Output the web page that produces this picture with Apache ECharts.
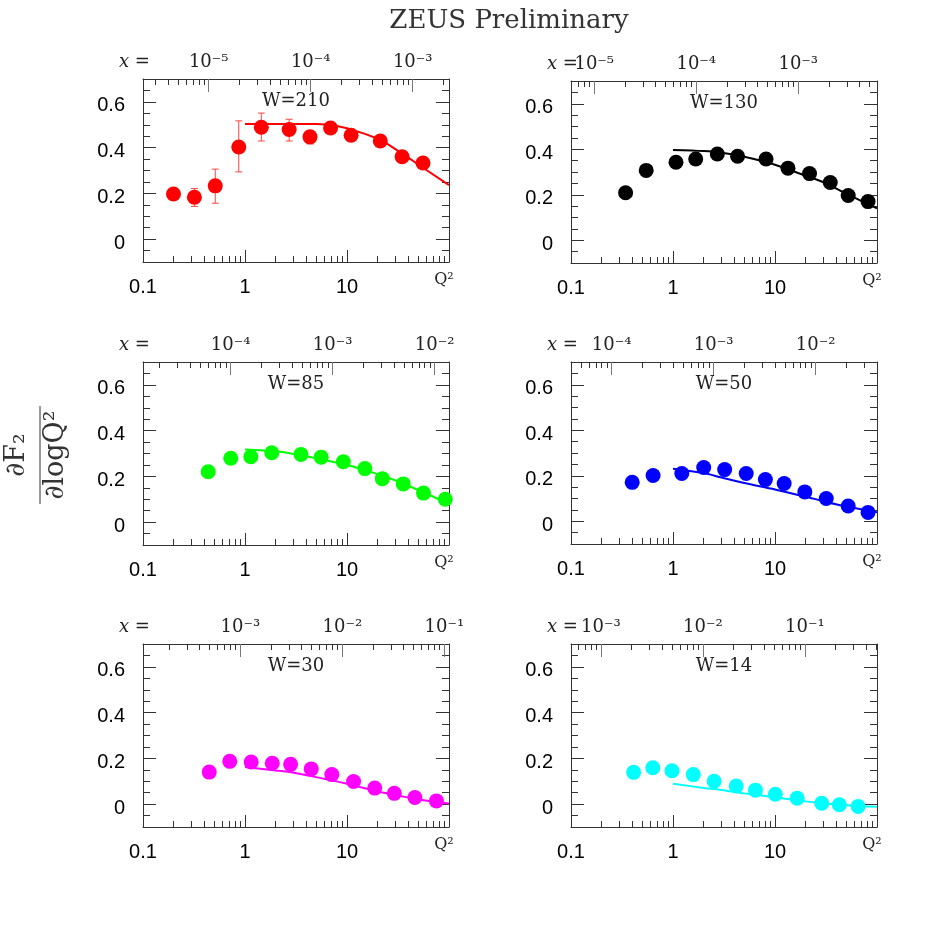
<!DOCTYPE html>
<html><head><meta charset="utf-8">
<script src="https://cdn.jsdelivr.net/npm/echarts@6/dist/echarts.min.js"></script>
<style>html,body{margin:0;padding:0;background:#fff}#c{width:926px;height:926px}</style>
</head><body><div id="c"></div>
<script>
// ---------------- data ----------------
const wValues = [210, 130, 85, 50, 30, 14];
const panelColors = ['#ff0000', '#000000', '#00ff00', '#0000ff', '#ff00ff', '#00ffff'];

// W = 210
const q2W210 = [0.199, 0.319, 0.511, 0.869, 1.445, 2.71, 4.34, 6.9, 10.97, 21.2, 34.7, 55.6];
const dW210  = [0.197, 0.183, 0.233, 0.403, 0.489, 0.479, 0.447, 0.486, 0.454, 0.429, 0.360, 0.333];
const errLoW210 = [0.186, 0.143, 0.157, 0.294, 0.429, 0.429, 0.416, 0.475, 0.443, 0.418, 0.349, 0.322];
const errHiW210 = [0.208, 0.221, 0.306, 0.517, 0.551, 0.524, 0.474, 0.497, 0.465, 0.440, 0.371, 0.344];
const fitQ2W210 = [1, 5, 7, 10, 15, 22, 37, 60, 100];
const fitW210   = [0.503, 0.503, 0.500, 0.485, 0.460, 0.432, 0.366, 0.302, 0.236];

// W = 130
const q2W130 = [0.343, 0.546, 1.07, 1.67, 2.72, 4.3, 8.17, 13.4, 21.8, 34.8, 52.2, 81.7];
const dW130  = [0.209, 0.307, 0.343, 0.357, 0.379, 0.369, 0.357, 0.317, 0.293, 0.254, 0.197, 0.170];
// W = 85
const q2W85 = [0.436, 0.725, 1.14, 1.83, 3.54, 5.58, 9.2, 14.96, 22.2, 35.6, 56.2, 92];
const dW85  = [0.220, 0.279, 0.286, 0.303, 0.296, 0.284, 0.264, 0.234, 0.190, 0.167, 0.127, 0.100];
// W = 50
const q2W50 = [0.398, 0.638, 1.22, 2.0, 3.21, 5.22, 8.05, 12.3, 19.6, 31.8, 52.2, 81.7];
const dW50  = [0.171, 0.201, 0.210, 0.236, 0.227, 0.210, 0.183, 0.166, 0.129, 0.100, 0.067, 0.039];
// W = 30
const q2W30 = [0.446, 0.709, 1.15, 1.85, 2.8, 4.46, 7.1, 11.6, 18.7, 29.1, 46.3, 75.3];
const dW30  = [0.140, 0.187, 0.184, 0.179, 0.174, 0.154, 0.129, 0.099, 0.070, 0.047, 0.029, 0.014];
// W = 14
const q2W14 = [0.411, 0.634, 0.977, 1.58, 2.53, 4.17, 6.43, 10.07, 16.5, 28.7, 42.7, 65.3];
const dW14  = [0.139, 0.159, 0.146, 0.129, 0.100, 0.079, 0.061, 0.043, 0.026, 0.004, -0.003, -0.010];

// theory curves (W = 130 ... 14) on a common Q2 grid
const fitQ2 = [1, 2, 3, 5, 10, 20, 30, 50, 100];
const fitW130 = [0.397, 0.392, 0.385, 0.367, 0.332, 0.283, 0.255, 0.205, 0.140];
const fitW85  = [0.318, 0.310, 0.298, 0.279, 0.250, 0.210, 0.182, 0.140, 0.080];
const fitW50  = [0.231, 0.212, 0.192, 0.168, 0.140, 0.108, 0.088, 0.065, 0.040];
const fitW30  = [0.162, 0.147, 0.137, 0.118, 0.089, 0.055, 0.040, 0.020, 0.003];
const fitW14  = [0.089, 0.071, 0.062, 0.047, 0.030, 0.012, 0.004, -0.005, -0.012];

// axis ticks
const q2Range = [0.1, 100];
const q2LabelTicks = [0.1, 1, 10];
const q2MajorTicks = [0.1, 1, 10, 100];
const decadeStarts = [1e-7, 1e-6, 1e-5, 1e-4, 1e-3, 1e-2, 1e-1, 1, 10];
const minorMultipliers = [2, 3, 4, 5, 6, 7, 8, 9];
const yRange = [-0.1, 0.7];
const yLabelTicks = [0, 0.2, 0.4, 0.6];
const yMinorTicks = [-0.05, 0, 0.05, 0.1, 0.15, 0.2, 0.25, 0.3, 0.35, 0.4, 0.45, 0.5, 0.55, 0.6, 0.65];

const panels = [
  { W: wValues[0], q2: q2W210, d: dW210, fq: fitQ2W210, f: fitW210, smooth: false, errLo: errLoW210, errHi: errHiW210 },
  { W: wValues[1], q2: q2W130, d: dW130, fq: fitQ2, f: fitW130, smooth: true },
  { W: wValues[2], q2: q2W85,  d: dW85,  fq: fitQ2, f: fitW85,  smooth: true },
  { W: wValues[3], q2: q2W50,  d: dW50,  fq: fitQ2, f: fitW50,  smooth: true },
  { W: wValues[4], q2: q2W30,  d: dW30,  fq: fitQ2, f: fitW30,  smooth: true },
  { W: wValues[5], q2: q2W14,  d: dW14,  fq: fitQ2, f: fitW14,  smooth: true }
];

// ---------------- layout ----------------
const gridRects = [
  { left: 143, top: 79,  width: 306, height: 183 },
  { left: 571, top: 81,  width: 306, height: 182 },
  { left: 143, top: 362, width: 306, height: 183 },
  { left: 571, top: 362, width: 306, height: 182 },
  { left: 143, top: 644, width: 306, height: 183 },
  { left: 571, top: 644, width: 306, height: 183 }
];

const AX = '#333';
const SANS = 'Liberation Sans';
const SERIF = 'DejaVu Serif';
const minorLogTicks = [];
decadeStarts.forEach(d => minorMultipliers.forEach(m => minorLogTicks.push(+(d * m).toPrecision(6))));
const sup = { '-': '\u207B', '0': '\u2070', '1': '\u00B9', '2': '\u00B2', '3': '\u00B3', '4': '\u2074', '5': '\u2075', '6': '\u2076', '7': '\u2077', '8': '\u2078', '9': '\u2079' };
function powLabel(v) {
  const e = String(Math.round(Math.log10(v)));
  return '10' + e.split('').map(c => sup[c]).join('');
}

const grid = [], xAxis = [], yAxis = [], series = [], graphic = [];

panels.forEach((p, i) => {
  const g = gridRects[i];
  grid.push({ left: g.left, top: g.top, width: g.width, height: g.height, containLabel: false });
  const W2 = p.W * p.W;
  const topMin = q2Range[0] / W2, topMax = q2Range[1] / W2;
  const base = { type: 'log', logBase: 10, gridIndex: i, splitLine: { show: false } };
  const lineOn = { show: true, onZero: false, lineStyle: { color: AX, width: 1 } };
  const lineOff = { show: false, onZero: false };
  // bottom major
  xAxis.push(Object.assign({}, base, {
    position: 'bottom', min: q2Range[0], max: q2Range[1],
    axisLine: lineOn,
    axisTick: { show: true, inside: true, length: 12, customValues: q2MajorTicks, lineStyle: { color: AX } },
    axisLabel: { show: true, customValues: q2LabelTicks, margin: 15, fontSize: 20, fontFamily: SANS, color: '#000',
      formatter: v => (v < 1 ? v.toFixed(1) : String(Math.round(v))) }
  }));
  // bottom minor
  xAxis.push(Object.assign({}, base, {
    position: 'bottom', min: q2Range[0], max: q2Range[1],
    axisLine: lineOff,
    axisTick: { show: true, inside: true, length: 6, customValues: minorLogTicks, lineStyle: { color: AX } },
    axisLabel: { show: false }
  }));
  // Q^2 label
  xAxis.push(Object.assign({}, base, {
    position: 'bottom', min: q2Range[0], max: q2Range[1],
    axisLine: lineOff, axisTick: { show: false },
    axisLabel: { show: true, customValues: [q2Range[1]], margin: 10, fontSize: 16, fontFamily: SERIF, color: '#222',
      padding: [0, 10, 0, 0], formatter: () => 'Q\u00B2' }
  }));
  // top major (x)
  xAxis.push(Object.assign({}, base, {
    position: 'top', min: topMin, max: topMax,
    axisLine: lineOn,
    axisTick: { show: true, inside: true, length: 13, customValues: decadeStarts, lineStyle: { color: '#777' } },
    axisLabel: { show: true, customValues: decadeStarts, margin: 8, fontSize: 18, fontFamily: SERIF, color: '#222',
      formatter: v => powLabel(v) }
  }));
  // top minor
  xAxis.push(Object.assign({}, base, {
    position: 'top', min: topMin, max: topMax,
    axisLine: lineOff,
    axisTick: { show: true, inside: true, length: 6, customValues: minorLogTicks, lineStyle: { color: AX } },
    axisLabel: { show: false }
  }));

  const ybase = { type: 'value', gridIndex: i, min: yRange[0], max: yRange[1], splitLine: { show: false } };
  yAxis.push(Object.assign({}, ybase, {
    position: 'left',
    axisLine: lineOn,
    axisTick: { show: true, inside: true, length: 13, customValues: yLabelTicks, lineStyle: { color: AX } },
    axisLabel: { show: true, customValues: yLabelTicks, margin: 18, color: '#000',
      formatter: v => '{n|' + (v === 0 ? '0' : v.toFixed(1)) + '}',
      rich: { n: { fontSize: 20, fontFamily: SANS, color: '#000', padding: [8, 0, 0, 0] } } }
  }));
  yAxis.push(Object.assign({}, ybase, {
    position: 'left', axisLine: lineOff,
    axisTick: { show: true, inside: true, length: 7, customValues: yMinorTicks, lineStyle: { color: AX } },
    axisLabel: { show: false }
  }));
  yAxis.push(Object.assign({}, ybase, {
    position: 'right',
    axisLine: lineOn,
    axisTick: { show: true, inside: true, length: 13, customValues: yLabelTicks, lineStyle: { color: AX } },
    axisLabel: { show: false }
  }));
  yAxis.push(Object.assign({}, ybase, {
    position: 'right', axisLine: lineOff,
    axisTick: { show: true, inside: true, length: 7, customValues: yMinorTicks, lineStyle: { color: AX } },
    axisLabel: { show: false }
  }));

  const xi = i * 5, yi = i * 4;
  const col = panelColors[i];
  series.push({
    type: 'line', xAxisIndex: xi, yAxisIndex: yi, z: 2,
    data: p.fq.map((q, k) => [q, p.f[k]]),
    showSymbol: false, smooth: p.smooth ? 0.3 : false,
    lineStyle: { color: col, width: 2 }, itemStyle: { color: col }, silent: true
  });
  if (p.errLo) {
    series.push({
      type: 'custom', xAxisIndex: xi, yAxisIndex: yi, z: 3,
      data: p.q2.map((q, k) => [q, p.errLo[k], p.errHi[k]]),
      encode: { x: 0, y: [1, 2] },
      renderItem: (params, api) => {
        const a = api.coord([api.value(0), api.value(1)]);
        const b = api.coord([api.value(0), api.value(2)]);
        const c = 3.5;
        const st = { stroke: '#ff4444', lineWidth: 1 };
        return { type: 'group', children: [
          { type: 'line', shape: { x1: a[0], y1: a[1], x2: b[0], y2: b[1] }, style: st },
          { type: 'line', shape: { x1: a[0] - c, y1: a[1], x2: a[0] + c, y2: a[1] }, style: st },
          { type: 'line', shape: { x1: b[0] - c, y1: b[1], x2: b[0] + c, y2: b[1] }, style: st }
        ] };
      }
    });
  }
  series.push({
    type: 'scatter', xAxisIndex: xi, yAxisIndex: yi, z: 4,
    data: p.q2.map((q, k) => [q, p.d[k]]),
    symbol: 'circle', symbolSize: 15, itemStyle: { color: col, opacity: 1 }
  });

  // panel texts
  graphic.push({ type: 'text', x: g.left + g.width / 2, y: g.top + 22,
    style: { text: 'W=' + p.W, align: 'center', verticalAlign: 'middle', textAlign: 'center', textVerticalAlign: 'middle',
      fontSize: 18, fontFamily: SERIF, fill: '#222' } });
  graphic.push({ type: 'text', x: g.left - 24, y: g.top - 17,
    style: { text: 'x =', align: 'left', verticalAlign: 'middle', textAlign: 'left', textVerticalAlign: 'middle',
      fontSize: 18, fontFamily: SERIF, fontStyle: 'italic', fill: '#222' } });
});

graphic.push({ type: 'text', x: 509, y: 21,
  style: { text: 'ZEUS Preliminary', align: 'center', verticalAlign: 'middle', textAlign: 'center', textVerticalAlign: 'middle',
    fontSize: 26, fontFamily: SERIF, fill: '#333' } });

graphic.push({ type: 'group', x: 40, y: 455, rotation: Math.PI / 2, children: [
  { type: 'line', shape: { x1: -49, y1: 0, x2: 49, y2: 0 }, style: { stroke: '#333', lineWidth: 1 } },
  { type: 'text', x: 0, y: -23, style: { text: '\u2202F\u2082', align: 'center', verticalAlign: 'middle', textAlign: 'center', textVerticalAlign: 'middle', fontSize: 27, fontFamily: SERIF, fill: '#333' } },
  { type: 'text', x: 0, y: 16, style: { text: '\u2202logQ\u00B2', align: 'center', verticalAlign: 'middle', textAlign: 'center', textVerticalAlign: 'middle', fontSize: 27, fontFamily: SERIF, fill: '#333' } }
] });

const chart = echarts.init(document.getElementById('c'), null, { renderer: 'canvas' });
chart.setOption({ animation: false, backgroundColor: '#fff', grid, xAxis, yAxis, series, graphic });
</script>
</body></html>
